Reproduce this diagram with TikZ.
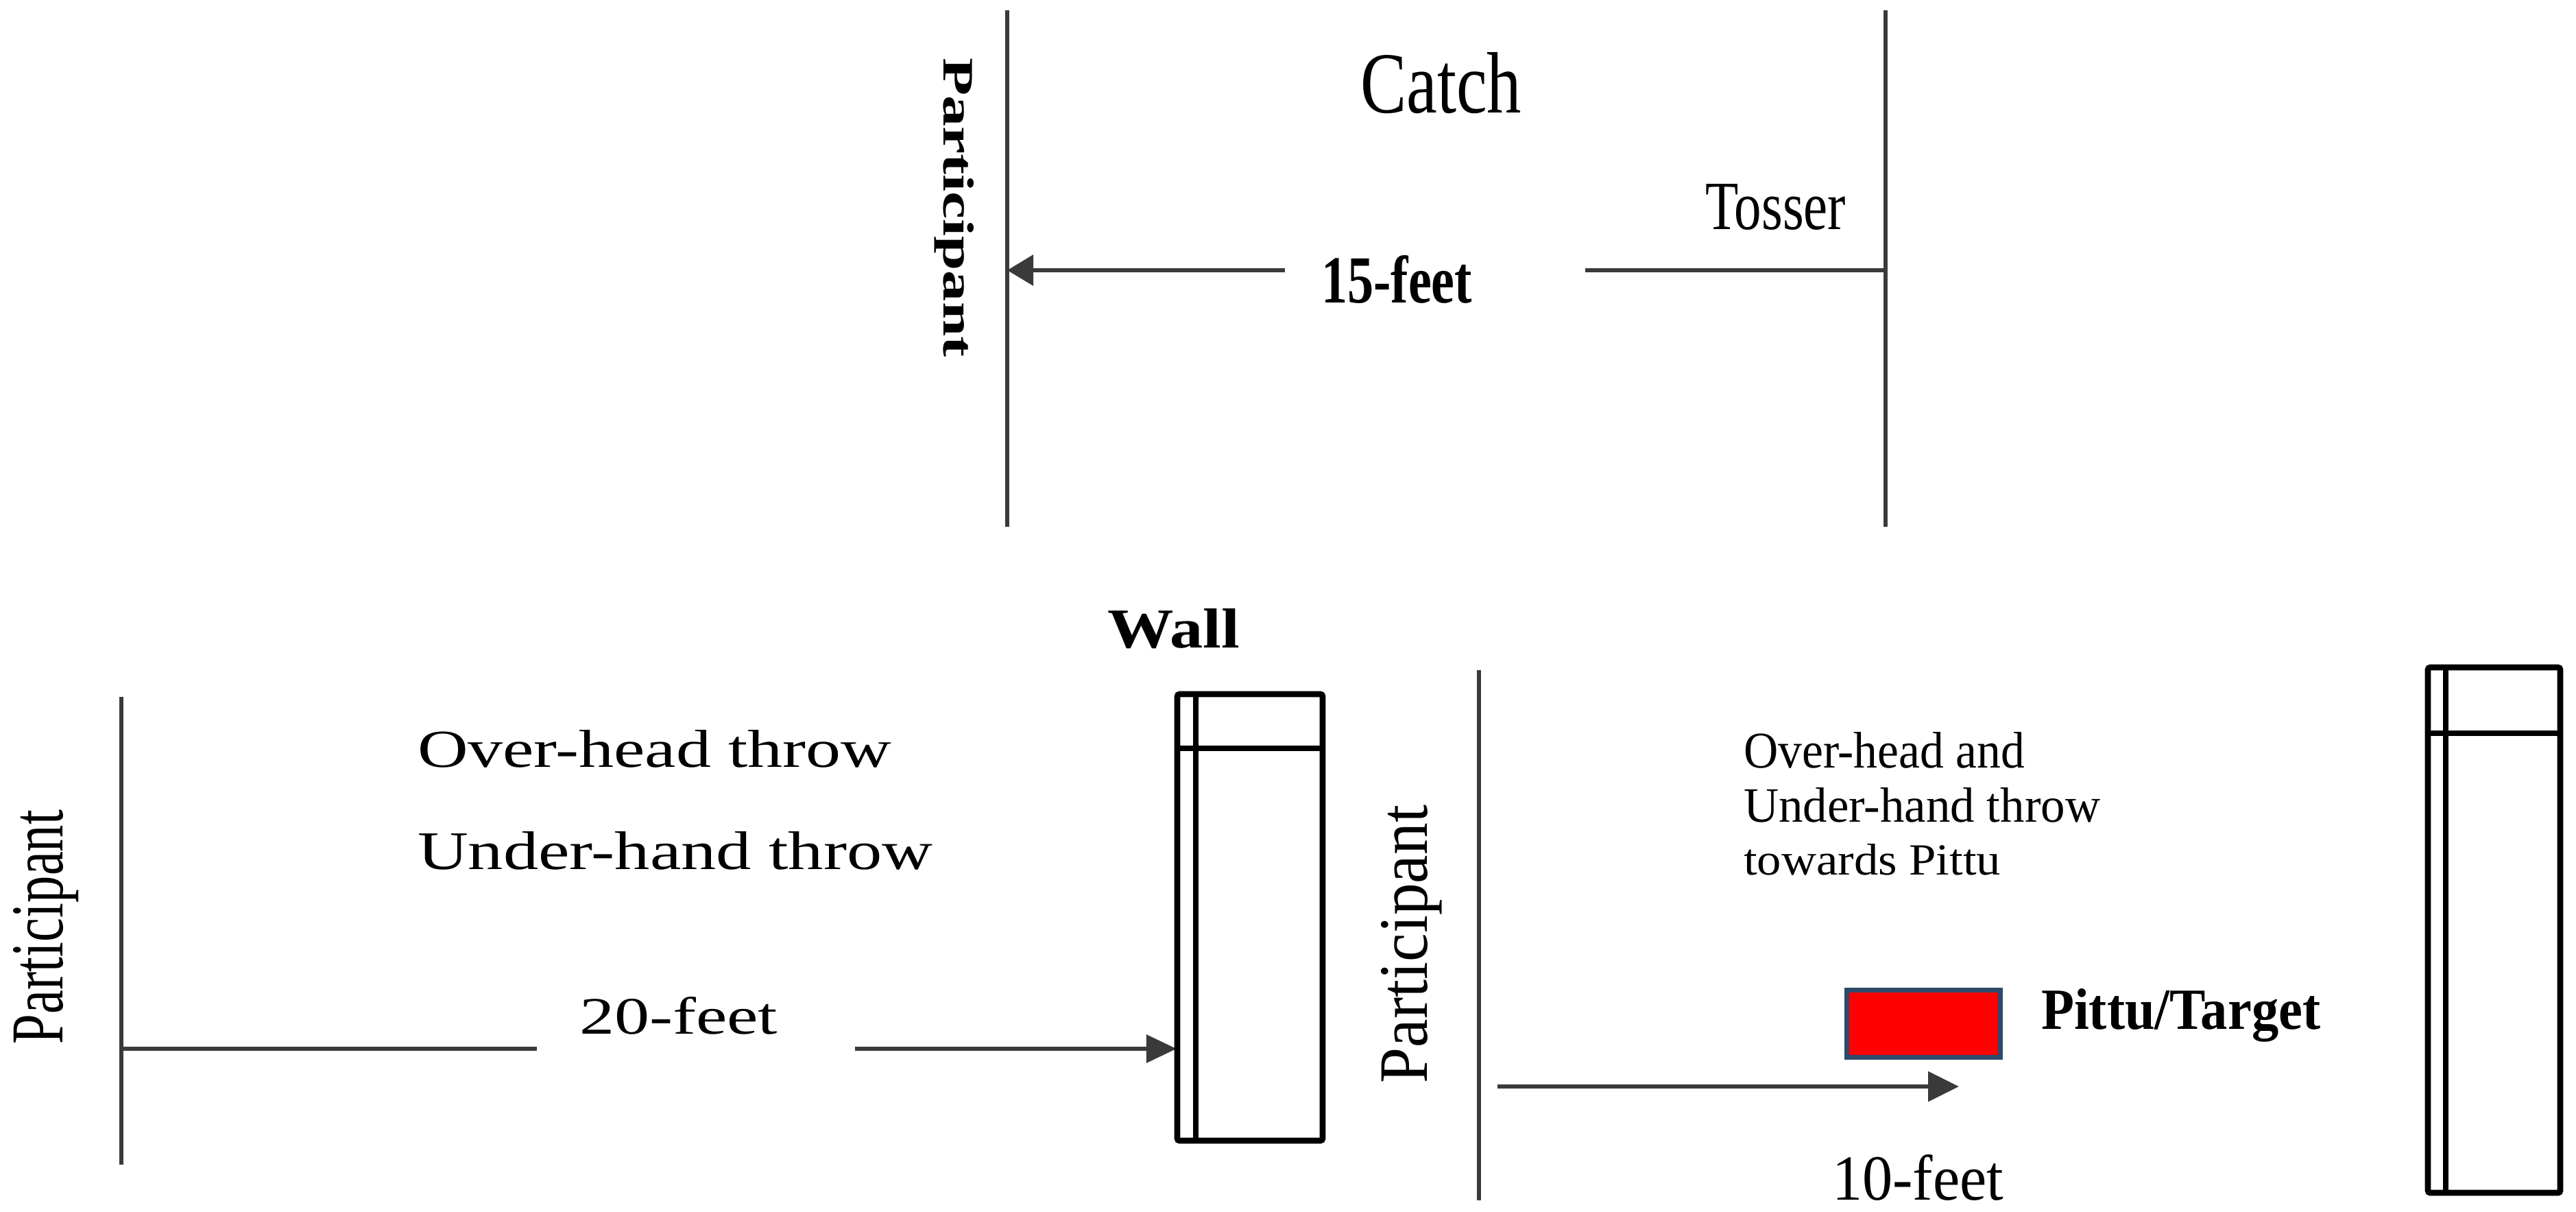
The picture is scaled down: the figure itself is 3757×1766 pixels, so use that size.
\documentclass[tikz,border=0pt]{standalone}
\usepackage{fontspec}
\setmainfont{Liberation Serif}
\usetikzlibrary{arrows.meta}
\definecolor{linegray}{HTML}{3A3A3A}
\definecolor{pittuedge}{HTML}{2E4A6B}
\definecolor{pittufill}{HTML}{FF0000}
\tikzset{
  txt/.style={inner sep=0pt, outer sep=0pt, anchor=base west},
  ln/.style={line width=1.8pt, draw=linegray},
  wallln/.style={line width=2.5pt, draw=black, rounded corners=1pt},
  tipA/.style={-{Triangle[length=0.38cm,width=0.44cm]}},
  tipB/.style={-{Triangle[length=0.44cm,width=0.40cm]}},
  tipC/.style={-{Triangle[length=0.45cm,width=0.43cm]}},
  pittu/.style={line width=2pt, draw=pittuedge, fill=pittufill}
}
\begin{document}
\begin{tikzpicture}[x=0.01cm, y=-0.01cm]
\fill[white] (0,0) rectangle (3757,1766);
\useasboundingbox (0,0) rectangle (3757,1766);
\fontsize{20}{24}\selectfont
% ---------- top panel: Catch ----------
\coordinate (tlTop) at (1469,15);
\coordinate (tlBot) at (1469,768);
\coordinate (trTop) at (2750,15);
\coordinate (trBot) at (2750,768);
\coordinate (tArrR) at (2750,394);
\coordinate (tArrM1) at (2312,394);
\coordinate (tArrM2) at (1874,394);
\coordinate (tArrL) at (1469,394);
\draw[ln] (tlTop) -- (tlBot);
\draw[ln] (trTop) -- (trBot);
\draw[ln] (tArrR) -- (tArrM1);
\draw[ln, tipA] (tArrM2) -- (tArrL);
\node[txt] (catch) at (1984,164) {\resizebox{2.35cm}{0.88cm}{Catch}};
\node[txt] (tosser) at (2487,334) {\resizebox{2.05cm}{0.66cm}{Tosser}};
\node[txt] (ft15) at (1927,441) {\resizebox{2.20cm}{0.69cm}{\bfseries 15-feet}};
\node[txt, rotate=-90] (partA) at (1376,84) {\resizebox{4.36cm}{0.44cm}{\bfseries Participant}};
% ---------- bottom-left panel: wall ----------
\coordinate (blTop) at (177,1016);
\coordinate (blBot) at (177,1698);
\coordinate (blH1) at (177,1529);
\coordinate (blH2) at (783,1529);
\coordinate (blA1) at (1247,1529);
\coordinate (blA2) at (1716,1529);
\draw[ln] (blTop) -- (blBot);
\draw[ln] (blH1) -- (blH2);
\draw[ln, tipB] (blA1) -- (blA2);
\draw[wallln] (1717,1012) rectangle (1929,1663);
\draw[wallln] (1744,1012) -- (1744,1663);
\draw[wallln] (1717,1091) -- (1929,1091);
\node[txt] (wall) at (1615,944) {\resizebox{1.93cm}{0.57cm}{\bfseries Wall}};
\node[txt] (oh1) at (609,1118) {\resizebox{6.91cm}{0.54cm}{Over-head throw}};
\node[txt] (uh1) at (609,1267) {\resizebox{7.51cm}{0.55cm}{Under-hand throw}};
\node[txt] (ft20) at (845,1507) {\resizebox{2.89cm}{0.54cm}{20-feet}};
\node[txt, rotate=90] (partB) at (91,1522) {\resizebox{3.41cm}{0.72cm}{Participant}};
% ---------- bottom-right panel: Pittu ----------
\coordinate (brTop) at (2157,977);
\coordinate (brBot) at (2157,1750);
\coordinate (brA1) at (2184,1584);
\coordinate (brA2) at (2857,1584);
\draw[ln] (brTop) -- (brBot);
\draw[ln, tipC] (brA1) -- (brA2);
\draw[pittu] (2693,1443) rectangle (2917,1541);
\draw[wallln] (3541,973) rectangle (3734,1739);
\draw[wallln] (3567,973) -- (3567,1739);
\draw[wallln] (3541,1069) -- (3734,1069);
\node[txt, rotate=90] (partC) at (2081,1579) {\resizebox{4.05cm}{0.67cm}{Participant}};
\node[txt] (oh2) at (2543,1119) {\resizebox{4.10cm}{0.52cm}{Over-head and}};
\node[txt] (uh2) at (2543,1198) {\resizebox{5.20cm}{0.50cm}{Under-hand throw}};
\node[txt] (tw) at (2543,1275) {\resizebox{3.75cm}{0.45cm}{towards Pittu}};
\node[txt] (pt) at (2977,1500) {\resizebox{4.07cm}{0.59cm}{\bfseries Pittu/Target}};
\node[txt] (ft10) at (2672,1749) {\resizebox{2.50cm}{0.66cm}{10-feet}};
\end{tikzpicture}
\end{document}
